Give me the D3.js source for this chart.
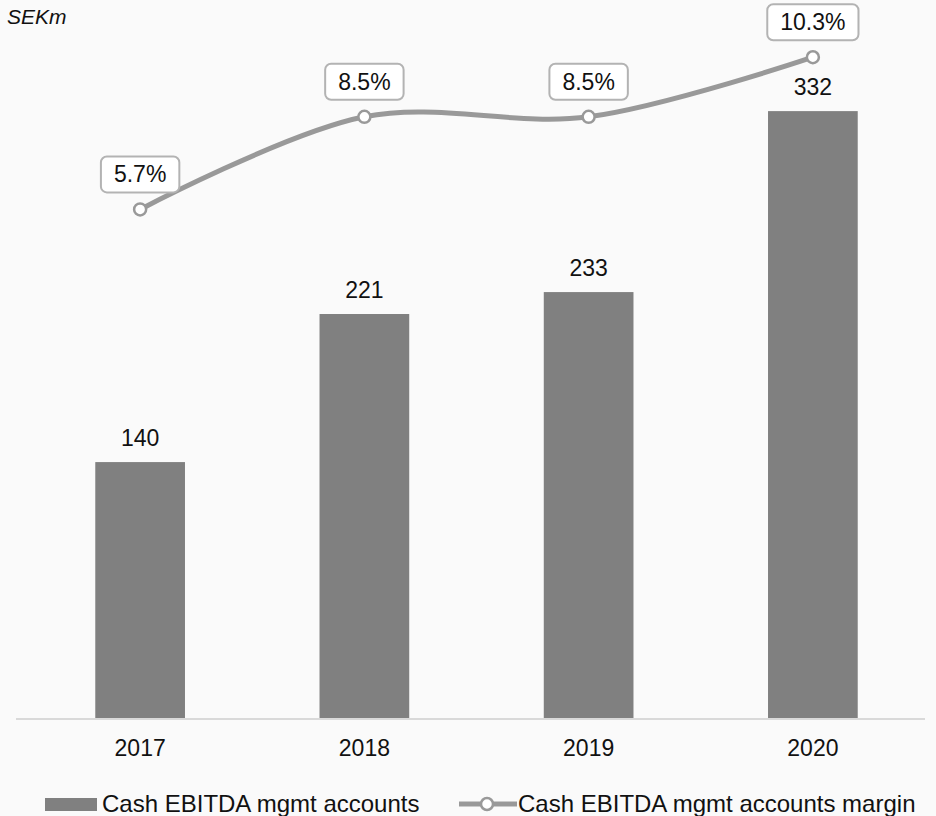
<!DOCTYPE html>
<html>
<head>
<meta charset="utf-8">
<script src="https://cdn.jsdelivr.net/npm/d3@7"></script>
<style>
  html, body { margin: 0; padding: 0; background: #fafafa; }
  svg { display: block; font-family: "Liberation Sans", Arial, sans-serif; }
</style>
</head>
<body>
<svg id="chart"></svg>
<script>
// data
let years = ["2017", "2018", "2019", "2020"];
let ebitda = [140, 221, 233, 332];
let margin = [5.7, 8.5, 8.5, 10.3];
let legendLabels = ["Cash EBITDA mgmt accounts", "Cash EBITDA mgmt accounts margin"];

let canvas = {"width": 936, "height": 816, "baseline": 718}

let svg = d3.select("#chart")
  .attr("width", canvas.width)
  .attr("height", canvas.height);

svg.append("rect")
  .attr("width", canvas.width)
  .attr("height", canvas.height)
  .attr("fill", "#fafafa");

let xScale = d3.scaleBand()
  .domain(years)
  .range([28, 925])
  .paddingInner(0.6)
  .paddingOuter(0.3);

let yScale = d3.scaleLinear()
  .domain([0, 350])
  .range([canvas.baseline, canvas.baseline - 350 * 1.828]);

let yMargin = d3.scaleLinear()
  .domain([0, 12])
  .range([398, 1]);

// unit label
svg.append("text")
  .attr("x", 7)
  .attr("y", 24)
  .attr("font-size", 21)
  .attr("font-style", "italic")
  .attr("fill", "#111")
  .text("SEKm");

// bars
svg.selectAll(".bar")
  .data(years)
  .join("rect")
  .attr("class", "bar")
  .attr("x", d => xScale(d))
  .attr("width", xScale.bandwidth())
  .attr("y", (d, i) => yScale(ebitda[i]))
  .attr("height", (d, i) => yScale(0) - yScale(ebitda[i]))
  .attr("fill", "#808080");

svg.selectAll(".barlabel")
  .data(years)
  .join("text")
  .attr("class", "barlabel")
  .attr("x", d => xScale(d) + xScale.bandwidth() / 2)
  .attr("y", (d, i) => yScale(ebitda[i]) - 16.5)
  .attr("text-anchor", "middle")
  .attr("font-size", 23)
  .attr("fill", "#111")
  .text((d, i) => ebitda[i]);

// x axis: just the baseline and labels
let xAxis = d3.axisBottom(xScale).tickSize(0).tickPadding(21);
let gx = svg.append("g")
  .attr("transform", `translate(0, ${canvas.baseline + 1})`)
  .call(xAxis);
gx.select(".domain")
  .attr("d", "M16,0H925")
  .attr("stroke", "#d9d9d9")
  .attr("stroke-width", 2);
gx.selectAll(".tick text")
  .attr("font-size", 23)
  .attr("font-family", "Liberation Sans, Arial, sans-serif")
  .attr("fill", "#111");

// margin line
let pts = years.map((d, i) => [xScale(d) + xScale.bandwidth() / 2, yMargin(margin[i])]);

svg.append("path")
  .datum(pts)
  .attr("d", d3.line().curve(d3.curveCatmullRom.alpha(0.5)))
  .attr("fill", "none")
  .attr("stroke", "#999999")
  .attr("stroke-width", 5);

svg.selectAll(".pt")
  .data(pts)
  .join("circle")
  .attr("class", "pt")
  .attr("cx", d => d[0])
  .attr("cy", d => d[1])
  .attr("r", 6)
  .attr("fill", "white")
  .attr("stroke", "#999999")
  .attr("stroke-width", 2.5);

// boxed percentage labels
let boxes = svg.selectAll(".pctlabel")
  .data(pts)
  .join("g")
  .attr("class", "pctlabel")
  .attr("transform", d => `translate(${d[0]}, ${d[1] - 35})`);

boxes.append("text")
  .attr("text-anchor", "middle")
  .attr("y", 8)
  .attr("font-size", 23)
  .attr("fill", "#111")
  .text((d, i) => margin[i].toFixed(1) + "%");

boxes.each(function() {
  let g = d3.select(this);
  let w = g.select("text").node().getComputedTextLength() + 26;
  g.insert("rect", "text")
    .attr("x", -w / 2)
    .attr("y", -18)
    .attr("width", w)
    .attr("height", 36)
    .attr("rx", 6)
    .attr("fill", "white")
    .attr("stroke", "#b3b3b3")
    .attr("stroke-width", 2);
});

// legend
let legend = svg.append("g");

legend.append("rect")
  .attr("x", 45)
  .attr("y", 798)
  .attr("width", 52)
  .attr("height", 13)
  .attr("fill", "#808080");

legend.append("text")
  .attr("x", 102)
  .attr("y", 812)
  .attr("font-size", 24)
  .attr("fill", "#111")
  .text(legendLabels[0]);

legend.append("line")
  .attr("x1", 459)
  .attr("x2", 517)
  .attr("y1", 804)
  .attr("y2", 804)
  .attr("stroke", "#999999")
  .attr("stroke-width", 5);

legend.append("circle")
  .attr("cx", 487)
  .attr("cy", 804)
  .attr("r", 6)
  .attr("fill", "white")
  .attr("stroke", "#999999")
  .attr("stroke-width", 2.5);

legend.append("text")
  .attr("x", 518)
  .attr("y", 812)
  .attr("font-size", 24)
  .attr("fill", "#111")
  .text(legendLabels[1]);
</script>
</body>
</html>
